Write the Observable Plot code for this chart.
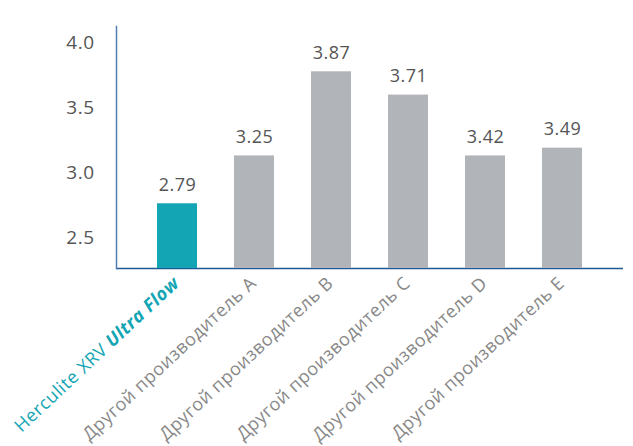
<!DOCTYPE html>
<html>
<head>
<meta charset="utf-8">
<script src="https://cdn.jsdelivr.net/npm/d3@7"></script>
<script src="https://cdn.jsdelivr.net/npm/@observablehq/plot@0.6"></script>
<style>
  html, body { margin: 0; padding: 0; background: #fff; }
  #wrap { position: relative; width: 633px; height: 446px; font-family: "Open Sans", sans-serif; }
  #title { position: absolute; right: 14px; top: 7px; font-size: 22px; letter-spacing: 0.5px; color: #6a6a6a; white-space: nowrap; }
  svg text { letter-spacing: 0.5px; }
</style>
</head>
<body>
<div id="wrap">
  <div id="title">Объемная усадка (%)</div>
</div>
<script>
const categories = [
  "Herculite XRV Ultra Flow",
  "Другой производитель A",
  "Другой производитель B",
  "Другой производитель C",
  "Другой производитель D",
  "Другой производитель E"
];
// bar heights as drawn in the picture
const barHeights = [2.76, 3.13, 3.78, 3.60, 3.13, 3.19];
// value labels printed above the bars
const valueLabels = ["2.79", "3.25", "3.87", "3.71", "3.42", "3.49"];
const yTicks = [2.5, 3.0, 3.5, 4.0];
const highlighted = "Herculite XRV Ultra Flow";
const yDomain = [2.26, 4.13];

const teal = "#13a5b4";
const grey = "#b1b5b9";

const data = categories.map((c, i) => ({cat: c, h: barHeights[i], label: valueLabels[i]}));

const plot = Plot.plot({
  width: 633,
  height: 446,
  marginLeft: 116,
  marginRight: 10,
  marginTop: 26,
  marginBottom: 178,
  style: {fontFamily: "Open Sans, sans-serif", background: "#fff"},
  x: {domain: categories, paddingInner: 0.48, paddingOuter: 0.52, label: null},
  y: {domain: yDomain, label: null},
  marks: [
    Plot.axisY({ticks: yTicks, tickFormat: d3.format(".1f"), tickSize: 0, tickPadding: 22, fontSize: 19, fill: "#555", label: null}),
    Plot.axisX({tickSize: 0, tickRotate: -43, tickPadding: 6, fontSize: 18, fill: "#888", label: null, dx: -1, dy: 6}),
    Plot.ruleY([yDomain[0]], {stroke: "#1f5a94", strokeWidth: 1.5}),
    Plot.frame({anchor: "left", stroke: "#4f7fb0", strokeWidth: 1.5}),
    Plot.barY(data, {x: "cat", y1: yDomain[0], y2: "h", fill: d => d.cat === highlighted ? teal : grey}),
    Plot.text(data, {x: "cat", y: "h", text: "label", dy: -19, fontSize: 18, fill: "#555"})
  ]
});

// rich first tick label
const labels = plot.querySelectorAll('[aria-label="x-axis tick label"] text');
labels.forEach(t => {
  if (t.textContent === highlighted) {
    const parts = highlighted.split("Ultra Flow");
    t.textContent = "";
    const a = document.createElementNS("http://www.w3.org/2000/svg", "tspan");
    a.textContent = parts[0];
    const b = document.createElementNS("http://www.w3.org/2000/svg", "tspan");
    b.textContent = "Ultra Flow";
    b.setAttribute("font-weight", "bold");
    b.setAttribute("font-style", "italic");
    t.appendChild(a); t.appendChild(b);
    t.setAttribute("fill", teal);
  }
});

document.getElementById("wrap").appendChild(plot);
plot.style.position = "absolute";
plot.style.left = "0";
plot.style.top = "0";
</script>
</body>
</html>
